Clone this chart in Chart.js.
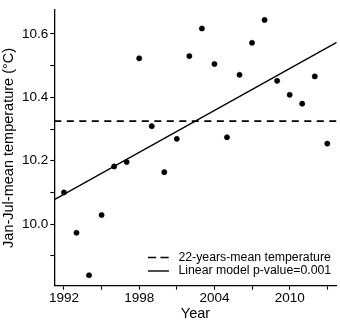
<!DOCTYPE html>
<html>
<head>
<meta charset="utf-8">
<script src="https://cdn.jsdelivr.net/npm/chart.js@4"></script>
<style>
html,body{margin:0;padding:0;background:#fff;}
#wrap{width:340px;height:323px;}
</style>
</head>
<body>
<div id="wrap"><canvas id="c" width="340" height="323"></canvas></div>
<script>
// ---- data ----
const years = [1992,1993,1994,1995,1996,1997,1998,1999,2000,2001,2002,2003,2004,2005,2006,2007,2008,2009,2010,2011,2012,2013];
const temps = [10.100,9.973,9.839,10.029,10.182,10.196,10.523,10.309,10.164,10.269,10.530,10.617,10.505,10.274,10.471,10.572,10.644,10.452,10.408,10.380,10.466,10.254];
const meanTemp = 10.325;                 // 22-years-mean temperature
const trendYears = [1991.23, 2013.75];   // ends of fitted line (panel edges)
const trendTemps = [10.077, 10.573];     // fitted line values at those ends
const xRange = [1991.23, 2013.75];
const yRange = [9.806, 10.675];
const legendLabels = ['22-years-mean temperature', 'Linear model p-value=0.001'];
const xTitle = 'Year';
const yTitle = 'Jan-Jul-mean temperature (°C)';

const FONT = "'Liberation Sans', Arial, sans-serif";

const pointData = years.map((y,i)=>({x:y, y:temps[i]}));
const meanData = xRange.map(x=>({x:x, y:meanTemp}));
const trendData = trendYears.map((x,i)=>({x:x, y:trendTemps[i]}));

const legendPlugin = {
  id: 'insideLegend',
  afterDraw(chart){
    const ctx = chart.ctx;
    const ca = chart.chartArea;
    ctx.save();
    ctx.font = "12.3px " + FONT;
    let maxW = 0;
    legendLabels.forEach(t=>{ maxW = Math.max(maxW, ctx.measureText(t).width); });
    const textX = ca.right - 5.5 - maxW;
    const x0 = textX - 30.5, x1 = textX - 9.5;
    const rows = [ca.bottom - 28.2, ca.bottom - 14.7];
    const dss = [chart.data.datasets[1], chart.data.datasets[2]];
    rows.forEach((yy,i)=>{
      const ds = dss[i];
      ctx.beginPath();
      ctx.setLineDash(i===0 ? [8.3,4.2] : []);
      ctx.lineWidth = ds.borderWidth;
      ctx.strokeStyle = '#000';
      ctx.moveTo(x0, yy); ctx.lineTo(x1, yy);
      ctx.stroke();
      ctx.setLineDash([]);
      ctx.fillStyle = '#000';
      ctx.textBaseline = 'middle';
      ctx.textAlign = 'left';
      ctx.fillText(legendLabels[i], textX, yy);
    });
    ctx.restore();
  }
};

new Chart(document.getElementById('c'), {
  type: 'scatter',
  data: {
    datasets: [
      { label: 'Observed', data: pointData, showLine: false,
        pointRadius: 2.6, pointHoverRadius: 2.6, pointBackgroundColor: '#000', pointBorderColor: '#000', pointBorderWidth: 0.6 },
      { label: legendLabels[0], data: meanData, showLine: true, borderColor: '#000', borderWidth: 1.6,
        borderDash: [7,5.5], pointRadius: 0, fill: false },
      { label: legendLabels[1], data: trendData, showLine: true, borderColor: '#000', borderWidth: 1.4,
        pointRadius: 0, fill: false }
    ]
  },
  options: {
    responsive: false,
    devicePixelRatio: 1,
    animation: false,
    events: [],
    layout: { padding: { top: 3, right: 3.3, left: 0, bottom: 0 } },
    plugins: { legend: { display: false }, tooltip: { enabled: false } },
    scales: {
      x: {
        type: 'linear', min: xRange[0], max: xRange[1],
        afterFit(s){ s.height = 37.3; },
        border: { display: true, color: '#000', width: 1.3 },
        grid: { drawOnChartArea: false, drawTicks: true, tickLength: 4, tickColor: '#000', tickWidth: 1.1 },
        ticks: { stepSize: 3, includeBounds: false, autoSkip: false, maxRotation: 0, padding: 0,
          color: '#000', font: { family: FONT, size: 13.5 },
          callback: v => (Math.round(v - 1992) % 6 === 0) ? String(Math.round(v)) : '' },
        title: { display: true, text: xTitle, color: '#000', font: { family: FONT, size: 14.5 }, padding: { top: 0, bottom: 0.5 } }
      },
      y: {
        type: 'linear', min: yRange[0], max: yRange[1],
        afterFit(s){ s.width = 54.3; },
        border: { display: true, color: '#000', width: 1.3 },
        grid: { drawOnChartArea: false, drawTicks: true, tickLength: 4, tickColor: '#000', tickWidth: 1.1 },
        ticks: { stepSize: 0.1, includeBounds: false, autoSkip: false, padding: 2,
          color: '#000', font: { family: FONT, size: 13.5 },
          callback: v => (Math.round(v*10) % 2 === 0) ? v.toFixed(1) : '' },
        title: { display: true, text: yTitle, color: '#000', font: { family: FONT, size: 14.5 }, padding: { top: 0, bottom: 0 } }
      }
    }
  },
  plugins: [legendPlugin]
});
</script>
</body>
</html>
